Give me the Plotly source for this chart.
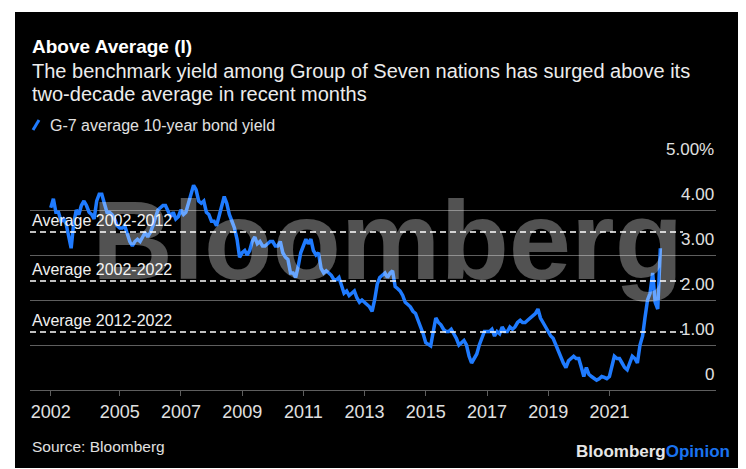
import pandas as pd
from plotly import graph_objects as go

# G-7 average 10-year bond yield, monthly (%)
yield_pct = [
    4.05, 4.25, 3.95,                                                    # 2002 (Oct-Dec)
    3.95, 3.75, 3.8, 3.7, 3.4, 3.15, 3.7, 4.0, 3.9, 4.1, 4.2, 4.1,       # 2003
    3.95, 3.9, 3.8, 4.2, 4.35, 4.35, 4.15, 3.95, 3.95, 3.9, 3.8, 3.65,   # 2004
    3.6, 3.6, 3.65, 3.45, 3.3, 3.2, 3.3, 3.35, 3.3, 3.4, 3.5, 3.4,       # 2005
    3.5, 3.65, 3.85, 4.0, 4.05, 4.1, 4.1, 3.95, 3.85, 3.95, 3.8, 3.85,   # 2006
    4.0, 3.9, 3.95, 4.15, 4.35, 4.55, 4.45, 4.2, 4.15, 4.2, 3.95, 3.9,   # 2007
    3.75, 3.75, 3.65, 3.85, 4.1, 4.3, 4.15, 3.9, 3.75, 3.6, 3.35, 2.95,  # 2008
    3.05, 3.1, 3.0, 3.1, 3.3, 3.4, 3.25, 3.3, 3.2, 3.2, 3.25, 3.3,       # 2009
    3.3, 3.2, 3.2, 3.3, 3.05, 2.95, 2.9, 2.6, 2.6, 2.5, 2.75, 3.05,      # 2010
    3.2, 3.35, 3.25, 3.35, 3.1, 3.0, 3.05, 2.7, 2.6, 2.65, 2.6, 2.55,    # 2011
    2.45, 2.45, 2.5, 2.3, 2.15, 2.2, 2.1, 2.15, 2.2, 2.05, 1.95, 2.0,    # 2012
    1.95, 1.9, 1.85, 1.75, 2.0, 2.35, 2.5, 2.55, 2.6, 2.5, 2.6, 2.65,    # 2013
    2.3, 2.25, 2.2, 2.1, 1.95, 1.9, 1.85, 1.75, 1.7, 1.55, 1.4, 1.25,    # 2014
    1.05, 1.0, 0.98, 1.3, 1.6, 1.5, 1.45, 1.35, 1.3, 1.3, 1.35, 1.25,    # 2015
    1.15, 1.0, 1.05, 1.1, 1.0, 0.75, 0.6, 0.7, 0.8, 1.0, 1.15, 1.3,      # 2016
    1.3, 1.3, 1.35, 1.2, 1.3, 1.25, 1.4, 1.3, 1.3, 1.4, 1.35, 1.4,       # 2017
    1.5, 1.55, 1.5, 1.5, 1.55, 1.6, 1.65, 1.7, 1.8, 1.6, 1.5, 1.4,       # 2018
    1.3, 1.2, 1.15, 1.0, 0.9, 0.7, 0.6, 0.5, 0.65, 0.7, 0.75, 0.7,       # 2019
    0.7, 0.5, 0.3, 0.5, 0.35, 0.3, 0.25, 0.22, 0.25, 0.3, 0.28, 0.25,    # 2020
    0.3, 0.55, 0.75, 0.7, 0.7, 0.6, 0.5, 0.45, 0.6, 0.75, 0.7, 0.6,      # 2021
    1.0, 1.2, 1.6, 2.0, 2.15, 2.6, 1.95, 1.8, 3.15,                      # 2022 (Jan-Sep)
]
dates = pd.date_range("2002-10-01", periods=len(yield_pct), freq="MS")

avg_labels = ["Average 2002-2012", "Average 2002-2022", "Average 2012-2022"]
avg_values = [3.51, 2.42, 1.29]

x_tickvals = ["2002-10-01", "2005-01-01", "2007-01-01", "2009-01-01", "2011-01-01",
              "2013-01-01", "2015-01-01", "2017-01-01", "2019-01-01", "2021-01-01"]
x_ticktext = ["2002", "2005", "2007", "2009", "2011", "2013", "2015", "2017", "2019", "2021"]
y_tickvals = [0, 1, 2, 3, 4, 5]
y_ticktext = ["0", "1.00", "2.00", "3.00", "4.00", "5.00%"]

FONT = "Liberation Sans"
BLUE = "#1f7bff"
GRID = "#5e5e5e"

# plot area in pixels: x 22..708, y 157..382
L, R, T, B = 22, 38, 157, 87
PW, PH = 746 - L - R, 469 - T - B


def px(x):
    return (x - L) / PW


def py(y):
    return (469 - B - y) / PH


fig = go.Figure()
fig.add_trace(go.Scatter(x=dates, y=yield_pct, mode="lines",
                         line=dict(color=BLUE, width=3.5), showlegend=False))

shapes = [
    # black card on white page
    dict(type="rect", xref="paper", yref="paper", x0=px(7), x1=px(739), y0=py(460), y1=py(4),
         fillcolor="black", line=dict(width=0), layer="below"),
    # legend slash
    dict(type="line", xref="paper", yref="paper", x0=px(25), y0=py(122), x1=px(31), y1=py(112),
         line=dict(color=BLUE, width=3)),
]
annotations = []
for lab, val in zip(avg_labels, avg_values):
    shapes.append(dict(type="line", xref="paper", yref="y", x0=0, x1=px(675), y0=val, y1=val,
                       line=dict(color="white", width=1.5, dash="6px,4px")))
    annotations.append(dict(text=lab, xref="paper", yref="y", x=0, y=val, xanchor="left",
                            yanchor="bottom", showarrow=False, yshift=1,
                            font=dict(size=16, color="#f0f0f0", family=FONT)))

for val, lab in zip(y_tickvals, y_ticktext):
    annotations.append(dict(text=lab, xref="paper", yref="y", x=1, y=val, xanchor="right",
                            yanchor="bottom", showarrow=False, yshift=4,
                            font=dict(size=17, color="#e0e0e0", family=FONT)))

annotations += [
    dict(text="<b>Above Average (I)</b>", x=0, y=py(39), xref="paper", yref="paper",
         xanchor="left", yanchor="middle", showarrow=False,
         font=dict(size=19, color="white", family=FONT)),
    dict(text="The benchmark yield among Group of Seven nations has surged above its",
         x=0, y=py(63), xref="paper", yref="paper", xanchor="left", yanchor="middle",
         showarrow=False, font=dict(size=20, color="#ececec", family=FONT)),
    dict(text="two-decade average in recent months",
         x=0, y=py(86), xref="paper", yref="paper", xanchor="left", yanchor="middle",
         showarrow=False, font=dict(size=20, color="#ececec", family=FONT)),
    dict(text="G-7 average 10-year bond yield", x=px(40), y=py(117), xref="paper", yref="paper",
         xanchor="left", yanchor="middle", showarrow=False,
         font=dict(size=16, color="#e0e0e0", family=FONT)),
    dict(text="Source: Bloomberg", x=0, y=py(438), xref="paper", yref="paper",
         xanchor="left", yanchor="middle", showarrow=False,
         font=dict(size=15.5, color="#e0e0e0", family=FONT)),
    dict(text="<b>Bloomberg<span style='color:#1a73f0'>Opinion</span></b>", x=px(724), y=py(443),
         xref="paper", yref="paper", xanchor="right", yanchor="middle", showarrow=False,
         font=dict(size=17, color="#e6e6e6", family=FONT)),
    # watermark on top of the line
    dict(text="<b>Bloomberg</b>", x=px(82), y=py(232), xref="paper", yref="paper",
         xanchor="left", yanchor="middle", showarrow=False,
         font=dict(size=112, color="rgba(255,255,255,0.32)", family=FONT)),
]

fig.update_layout(
    width=746, height=469, autosize=False,
    margin=dict(l=L, r=R, t=T, b=B, pad=0),
    paper_bgcolor="white", plot_bgcolor="black",
    shapes=shapes, annotations=annotations,
    xaxis=dict(type="date", range=["2002-01-26", "2024-06-26"],
               tickvals=x_tickvals, ticktext=x_ticktext,
               showgrid=False, zeroline=False, showline=True, linecolor=GRID, linewidth=1,
               ticks="outside", ticklen=5, tickcolor=GRID, tickwidth=1,
               tickfont=dict(size=18, color="#e0e0e0", family=FONT)),
    yaxis=dict(range=[0, 5], tickvals=y_tickvals, showticklabels=False,
               showgrid=True, gridcolor=GRID, gridwidth=1, zeroline=False, showline=False),
)

fig.write_html("out.html")
